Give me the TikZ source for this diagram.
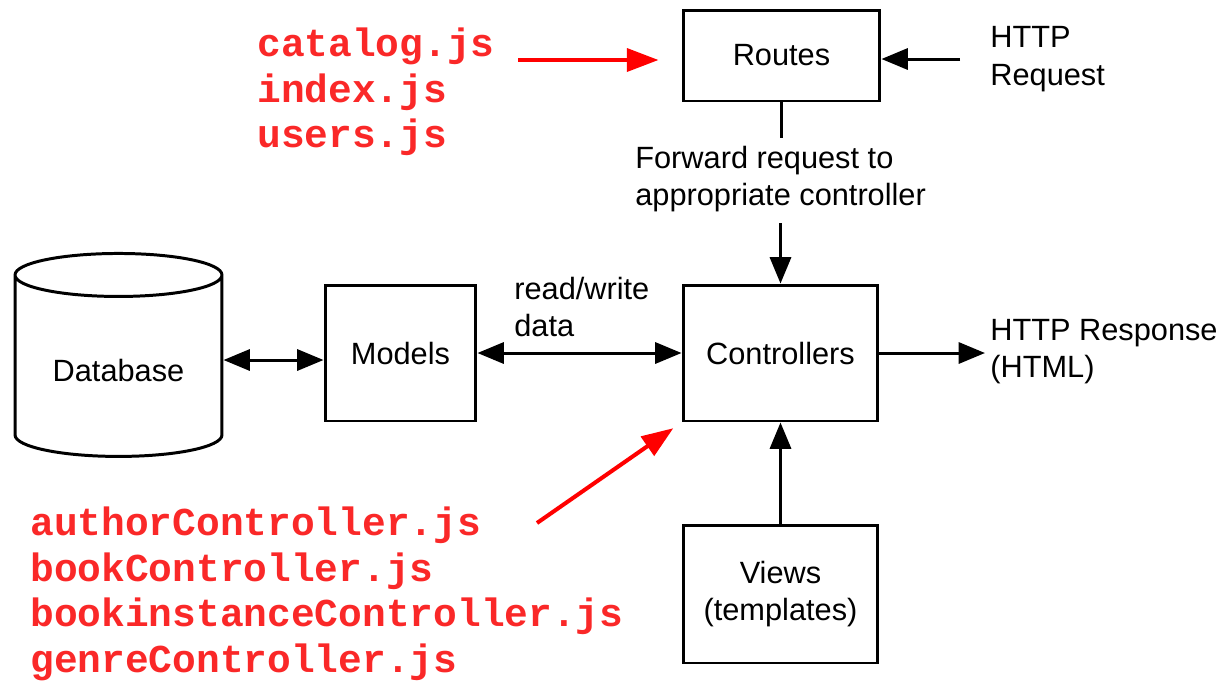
\documentclass[tikz,border=0pt]{standalone}
\usepackage{fontspec}
\setmainfont{Liberation Sans}
\setmonofont{Liberation Mono}
\usetikzlibrary{arrows.meta,shapes.geometric,positioning}
\definecolor{filered}{RGB}{250,40,40}
\definecolor{arrowred}{RGB}{255,0,0}

\begin{document}
\begin{tikzpicture}[x=0.02cm,y=-0.02cm,
    box/.style={draw,line width=1.7pt,minimum width=3.9cm,minimum height=2.72cm,font=\fontsize{17.5}{21.5}\selectfont,align=center},
    txt/.style={inner sep=0pt,align=left,font=\fontsize{17.5}{21.5}\selectfont},
    files/.style={inner sep=0pt,align=left,text=filered,font=\fontsize{22.5}{26}\selectfont\ttfamily\bfseries},
    arr/.style={line width=1.7pt,-{Triangle[length=15pt,width=12pt]}},
    both/.style={line width=1.7pt,{Triangle[length=15pt,width=12pt]}-{Triangle[length=15pt,width=12pt]}},
    redarr/.style={line width=2.3pt,arrowred,-{Triangle[length=18pt,width=13pt]}}]
  \useasboundingbox (0,0) rectangle (1221,681);
  % boxes
  \node[box,minimum width=3.94cm,minimum height=1.82cm] (routes) at (781.5,55.5) {Routes};
  \node[box] (ctrl) at (780.5,353) {Controllers};
  \node[box,minimum width=3.02cm] (models) at (400.5,353) {Models};
  \node[box,minimum height=2.76cm] (views) at (780.5,594) {Views\\(templates)};
  \node[draw,cylinder,shape border rotate=90,aspect=0.3,line width=1.7pt,
        minimum width=4.14cm,minimum height=4.06cm,font=\fontsize{17.5}{21.5}\selectfont] (db) at (118.5,370) {Database};
  % labels
  \node[txt,anchor=west] (req) at (990,59) {HTTP\\Request};
  \node[txt,anchor=west] (resp) at (990,351.5) {HTTP Response\\(HTML)};
  \node[txt,anchor=west] (fwd) at (635,179) {Forward request to\\appropriate controller};
  \node[txt,anchor=west] (rw) at (514,307) {read/write\\data};
  \node[files,anchor=west] (routefiles) at (257,92) {catalog.js\\index.js\\users.js};
  \node[files,anchor=west] (ctrlfiles) at (30,594) {authorController.js\\bookController.js\\bookinstanceController.js\\genreController.js};
  % connectors
  \draw[arr,shorten <=0.6cm] (req.west) -- (req.west -| routes.east);
  \draw[line width=1.7pt] (routes.south) -- ([yshift=4pt]routes.south |- fwd.north);
  \draw[arr] ([yshift=-6pt]ctrl.north |- fwd.south) -- (ctrl.north);
  \draw[arr] (views.north) -- (ctrl.south);
  \draw[arr,shorten >=0.1cm] (ctrl.east) -- (ctrl.east -| resp.west);
  \draw[both] (models.east |- ctrl.west) -- (ctrl.west);
  \draw[both] (db.east |- 0,360) -- (models.west |- 0,360);
  % file arrows
  \coordinate (r1) at (518,60);
  \coordinate (r2) at (537,523);
  \draw[redarr,shorten >=0.46cm] (r1) -- (routes.west |- r1);
  \draw[redarr,shorten >=0.2cm] (r2) -- (ctrl.south west);
\end{tikzpicture}
\end{document}
